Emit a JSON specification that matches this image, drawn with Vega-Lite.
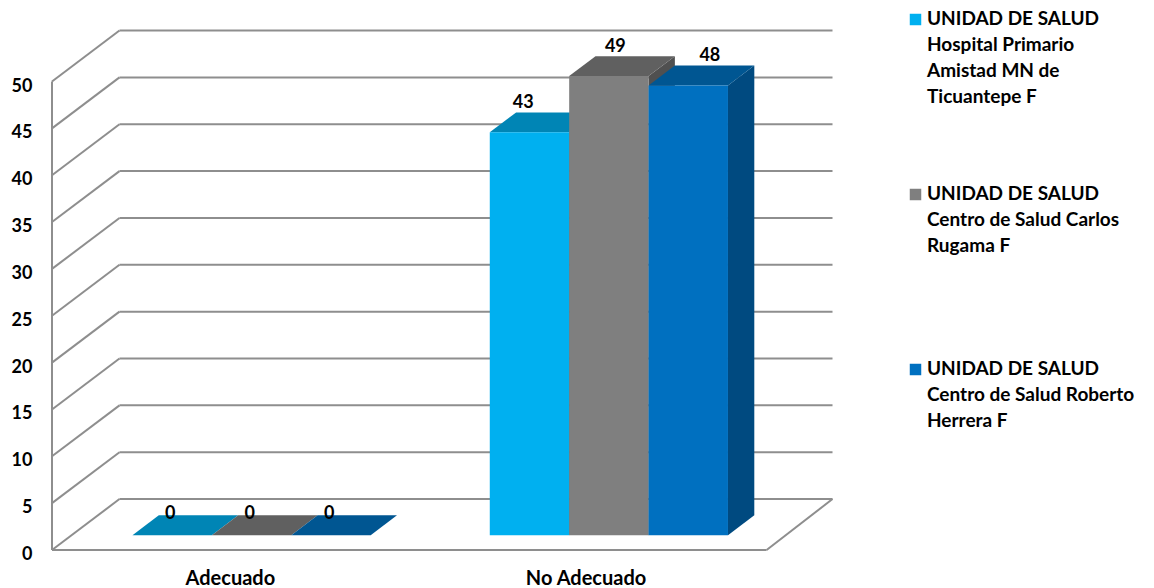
{
  "$schema": "https://vega.github.io/schema/vega-lite/v6.json",
  "width": 1102,
  "height": 588,
  "autosize": {"type": "none"},
  "padding": {"left": 52, "top": 0, "right": 0, "bottom": 0},
  "background": "white",
  "view": {"stroke": null},
  "config": {
    "font": "Lato",
    "axisX": {
      "title": null, "domain": false, "ticks": false, "grid": false, "offset": -10, "labelPadding": 0,
      "labelBaseline": "middle", "labelFontSize": 20, "labelFontWeight": "bold", "labelColor": "black", "labelFont": "Lato"
    },
    "axisY": {
      "title": null, "domain": false, "ticks": false, "grid": false, "labelPadding": 20, "labelOffset": 4.5,
      "labelFontSize": 18, "labelFontWeight": "bold", "labelColor": "black", "labelFont": "Lato"
    }
  },
  "datasets": {
    "marcas": [
      {"marca": 0}, {"marca": 5}, {"marca": 10}, {"marca": 15}, {"marca": 20}, {"marca": 25},
      {"marca": 30}, {"marca": 35}, {"marca": 40}, {"marca": 45}, {"marca": 50}
    ],
    "casos": [
      {"categoria": "Adecuado", "unidad": "UNIDAD DE SALUD\nHospital Primario\nAmistad MN de\nTicuantepe F", "casos": 0},
      {"categoria": "Adecuado", "unidad": "UNIDAD DE SALUD\nCentro de Salud Carlos\nRugama F", "casos": 0},
      {"categoria": "Adecuado", "unidad": "UNIDAD DE SALUD\nCentro de Salud Roberto\nHerrera F", "casos": 0},
      {"categoria": "No Adecuado", "unidad": "UNIDAD DE SALUD\nHospital Primario\nAmistad MN de\nTicuantepe F", "casos": 43},
      {"categoria": "No Adecuado", "unidad": "UNIDAD DE SALUD\nCentro de Salud Carlos\nRugama F", "casos": 49},
      {"categoria": "No Adecuado", "unidad": "UNIDAD DE SALUD\nCentro de Salud Roberto\nHerrera F", "casos": 48}
    ]
  },
  "layer": [
    {
      "description": "Left wall: slanted lines running from the front plane to the back plane",
      "data": {"name": "marcas"},
      "transform": [{"calculate": "datum.marca + 5.44", "as": "fondo"}],
      "mark": {"type": "rule", "color": "#8e8e8e", "strokeWidth": 2},
      "encoding": {
        "x": {
          "datum": 0, "type": "quantitative",
          "scale": {"domain": [0, 13.879], "nice": false, "zero": false},
          "axis": {"values": [2.24, 6.72], "labelExpr": "datum.value < 4 ? 'Adecuado' : 'No Adecuado'"}
        },
        "x2": {"datum": 0.85},
        "y": {
          "field": "marca", "type": "quantitative",
          "scale": {"domain": [-4.055, 58.7], "nice": false, "zero": false},
          "axis": {"values": [0, 5, 10, 15, 20, 25, 30, 35, 40, 45, 50]}
        },
        "y2": {"field": "fondo"}
      }
    },
    {
      "description": "Back wall gridlines",
      "data": {"name": "marcas"},
      "transform": [{"calculate": "datum.marca + 5.44", "as": "fondo"}],
      "mark": {"type": "rule", "color": "#8e8e8e", "strokeWidth": 2},
      "encoding": {
        "x": {
          "datum": 0.85, "type": "quantitative",
          "scale": {"domain": [0, 13.879], "nice": false, "zero": false},
          "axis": {"values": [2.24, 6.72], "labelExpr": "datum.value < 4 ? 'Adecuado' : 'No Adecuado'"}
        },
        "x2": {"datum": 9.83},
        "y": {
          "field": "fondo", "type": "quantitative",
          "scale": {"domain": [-4.055, 58.7], "nice": false, "zero": false},
          "axis": {"values": [0, 5, 10, 15, 20, 25, 30, 35, 40, 45, 50]}
        }
      }
    },
    {
      "description": "Vertical front edge of the left wall",
      "data": {"name": "marcas"},
      "transform": [{"aggregate": [{"op": "min", "field": "marca", "as": "desde"}, {"op": "max", "field": "marca", "as": "hasta"}]}],
      "mark": {"type": "rule", "color": "#8e8e8e", "strokeWidth": 2},
      "encoding": {
        "x": {
          "datum": 0, "type": "quantitative",
          "scale": {"domain": [0, 13.879], "nice": false, "zero": false},
          "axis": {"values": [2.24, 6.72], "labelExpr": "datum.value < 4 ? 'Adecuado' : 'No Adecuado'"}
        },
        "y": {
          "field": "desde", "type": "quantitative",
          "scale": {"domain": [-4.055, 58.7], "nice": false, "zero": false},
          "axis": {"values": [0, 5, 10, 15, 20, 25, 30, 35, 40, 45, 50]}
        },
        "y2": {"field": "hasta"}
      }
    },
    {
      "description": "Front edge of the floor",
      "data": {"name": "marcas"},
      "transform": [{"filter": "datum.marca === 0"}],
      "mark": {"type": "rule", "color": "#8e8e8e", "strokeWidth": 2},
      "encoding": {
        "x": {
          "datum": 0, "type": "quantitative",
          "scale": {"domain": [0, 13.879], "nice": false, "zero": false},
          "axis": {"values": [2.24, 6.72], "labelExpr": "datum.value < 4 ? 'Adecuado' : 'No Adecuado'"}
        },
        "x2": {"datum": 9},
        "y": {
          "field": "marca", "type": "quantitative",
          "scale": {"domain": [-4.055, 58.7], "nice": false, "zero": false},
          "axis": {"values": [0, 5, 10, 15, 20, 25, 30, 35, 40, 45, 50]}
        }
      }
    },
    {
      "description": "Right edge of the floor",
      "data": {"name": "marcas"},
      "transform": [{"filter": "datum.marca === 0"}, {"calculate": "datum.marca + 5.44", "as": "fondo"}],
      "mark": {"type": "rule", "color": "#8e8e8e", "strokeWidth": 2},
      "encoding": {
        "x": {
          "datum": 9, "type": "quantitative",
          "scale": {"domain": [0, 13.879], "nice": false, "zero": false},
          "axis": {"values": [2.24, 6.72], "labelExpr": "datum.value < 4 ? 'Adecuado' : 'No Adecuado'"}
        },
        "x2": {"datum": 9.83},
        "y": {
          "field": "marca", "type": "quantitative",
          "scale": {"domain": [-4.055, 58.7], "nice": false, "zero": false},
          "axis": {"values": [0, 5, 10, 15, 20, 25, 30, 35, 40, 45, 50]}
        },
        "y2": {"field": "fondo"}
      }
    },
    {
      "description": "Right side faces of the bars",
      "data": {"name": "casos"},
      "transform": [
        {"window": [{"op": "row_number", "as": "n"}], "groupby": ["categoria"]},
        {"calculate": "(datum.categoria === 'Adecuado' ? 0 : 4.5) + 0.767 + datum.n - 1", "as": "izq"},
        {"calculate": "0.29", "as": "cerca"},
        {"calculate": "0.68", "as": "lejos"},
        {"fold": ["cerca", "lejos"], "as": ["borde", "prof"]},
        {"calculate": "datum.izq + 1 + datum.prof * 0.85", "as": "px"},
        {"calculate": "datum.casos + datum.prof * 5.44", "as": "arriba"},
        {"calculate": "datum.prof * 5.44", "as": "abajo"}
      ],
      "mark": {"type": "area", "orient": "vertical", "opacity": 1},
      "encoding": {
        "x": {
          "field": "px", "type": "quantitative",
          "scale": {"domain": [0, 13.879], "nice": false, "zero": false},
          "axis": {"values": [2.24, 6.72], "labelExpr": "datum.value < 4 ? 'Adecuado' : 'No Adecuado'"}
        },
        "y": {
          "field": "arriba", "type": "quantitative",
          "scale": {"domain": [-4.055, 58.7], "nice": false, "zero": false},
          "axis": {"values": [0, 5, 10, 15, 20, 25, 30, 35, 40, 45, 50]}
        },
        "y2": {"field": "abajo"},
        "detail": {"field": "categoria"},
        "fill": {
          "field": "unidad", "type": "nominal", "sort": null, "legend": null,
          "scale": {"range": ["#00698f", "#505050", "#004a80"]}
        }
      }
    },
    {
      "description": "Top faces of the bars",
      "data": {"name": "casos"},
      "transform": [
        {"window": [{"op": "row_number", "as": "n"}], "groupby": ["categoria"]},
        {"calculate": "(datum.categoria === 'Adecuado' ? 0 : 4.5) + 0.767 + datum.n - 1", "as": "izq"},
        {"calculate": "0.29", "as": "cerca"},
        {"calculate": "0.68", "as": "lejos"},
        {"fold": ["cerca", "lejos"], "as": ["borde", "prof"]},
        {"calculate": "datum.izq + datum.prof * 0.85", "as": "px"},
        {"calculate": "datum.izq + 1 + datum.prof * 0.85", "as": "px2"},
        {"calculate": "datum.casos + datum.prof * 5.44", "as": "arriba"}
      ],
      "mark": {"type": "area", "orient": "horizontal", "opacity": 1},
      "encoding": {
        "y": {
          "field": "arriba", "type": "quantitative",
          "scale": {"domain": [-4.055, 58.7], "nice": false, "zero": false},
          "axis": {"values": [0, 5, 10, 15, 20, 25, 30, 35, 40, 45, 50]}
        },
        "x": {
          "field": "px", "type": "quantitative",
          "scale": {"domain": [0, 13.879], "nice": false, "zero": false},
          "axis": {"values": [2.24, 6.72], "labelExpr": "datum.value < 4 ? 'Adecuado' : 'No Adecuado'"}
        },
        "x2": {"field": "px2"},
        "detail": {"field": "categoria"},
        "fill": {
          "field": "unidad", "type": "nominal", "sort": null, "legend": null,
          "scale": {"range": ["#0085b5", "#606060", "#005692"]}
        }
      }
    },
    {
      "description": "Front faces of the bars, which also carry the legend",
      "data": {"name": "casos"},
      "transform": [
        {"window": [{"op": "row_number", "as": "n"}], "groupby": ["categoria"]},
        {"calculate": "(datum.categoria === 'Adecuado' ? 0 : 4.5) + 0.767 + datum.n - 1 + 0.29 * 0.85", "as": "px"},
        {"calculate": "datum.px + 1", "as": "px2"},
        {"calculate": "datum.casos + 0.29 * 5.44", "as": "arriba"},
        {"calculate": "0.29 * 5.44", "as": "abajo"}
      ],
      "mark": {"type": "rect"},
      "encoding": {
        "x": {
          "field": "px", "type": "quantitative",
          "scale": {"domain": [0, 13.879], "nice": false, "zero": false},
          "axis": {"values": [2.24, 6.72], "labelExpr": "datum.value < 4 ? 'Adecuado' : 'No Adecuado'"}
        },
        "x2": {"field": "px2"},
        "y": {
          "field": "arriba", "type": "quantitative",
          "scale": {"domain": [-4.055, 58.7], "nice": false, "zero": false},
          "axis": {"values": [0, 5, 10, 15, 20, 25, 30, 35, 40, 45, 50]}
        },
        "y2": {"field": "abajo"},
        "fill": {
          "field": "unidad", "type": "nominal", "sort": null,
          "scale": {"range": ["#00b0f0", "#7f7f7f", "#0070c0"]},
          "legend": {
            "title": null,
            "orient": "none",
            "legendX": 854,
            "legendY": 10,
            "padding": 0,
            "symbolType": "square",
            "symbolSize": 132,
            "symbolStrokeWidth": 0,
            "labelExpr": "split(datum.label, '\\n')",
            "labelFont": "Lato",
            "labelFontSize": 19,
            "labelFontWeight": "bold",
            "labelColor": "black",
            "labelBaseline": "top",
            "labelOffset": 2,
            "labelLimit": 300,
            "gridAlign": "all",
            "rowPadding": 77,
            "encoding": {"labels": {"lineHeight": {"value": 26}, "dy": {"value": -10}}}
          }
        }
      }
    },
    {
      "description": "Value labels above each bar",
      "data": {"name": "casos"},
      "transform": [
        {"window": [{"op": "row_number", "as": "n"}], "groupby": ["categoria"]},
        {"calculate": "(datum.categoria === 'Adecuado' ? 0 : 4.5) + 0.75 + datum.n - 1 + 0.3 * 0.85", "as": "izq"},
        {"calculate": "datum.izq + (datum.casos === 0 ? 0.485 : [0.43, 0.59, 0.78][datum.n - 1])", "as": "px"},
        {"calculate": "datum.casos + 0.7 * 5.44 + (datum.casos === 0 ? 0.05 : 0.9)", "as": "py"}
      ],
      "mark": {"type": "text", "font": "Lato", "fontSize": 18, "fontWeight": "bold", "color": "black", "align": "center", "baseline": "middle"},
      "encoding": {
        "x": {
          "field": "px", "type": "quantitative",
          "scale": {"domain": [0, 13.879], "nice": false, "zero": false},
          "axis": {"values": [2.24, 6.72], "labelExpr": "datum.value < 4 ? 'Adecuado' : 'No Adecuado'"}
        },
        "y": {
          "field": "py", "type": "quantitative",
          "scale": {"domain": [-4.055, 58.7], "nice": false, "zero": false},
          "axis": {"values": [0, 5, 10, 15, 20, 25, 30, 35, 40, 45, 50]}
        },
        "text": {"field": "casos", "type": "quantitative"}
      }
    }
  ],
  "resolve": {"scale": {"fill": "independent"}}
}
